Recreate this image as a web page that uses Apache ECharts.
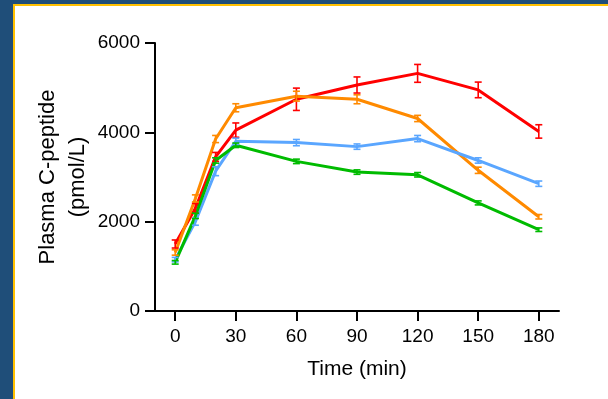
<!DOCTYPE html>
<html>
<head>
<meta charset="utf-8">
<script src="https://cdn.jsdelivr.net/npm/echarts@6/dist/echarts.min.js"></script>
<style>
  html, body { margin: 0; padding: 0; width: 608px; height: 399px; overflow: hidden; background: #1f4e79; }
  #panel { position: absolute; left: 13px; top: 4px; right: 0; bottom: 0; background: #fff;
           border-left: 2px solid #ffc000; border-top: 2px solid #ffc000; }
  #chart { position: absolute; left: 0; top: 0; width: 608px; height: 399px; }
</style>
</head>
<body>
<div id="panel"></div>
<div id="chart"></div>
<script>
// Sampling times (min)
const times = [0, 10, 20, 30, 60, 90, 120, 150, 180];
const xTicks = [0, 30, 60, 90, 120, 150, 180];

// Mean plasma C-peptide (pmol/L) and SEM for each group
const redMean    = [1500, 2300, 3450, 4050, 4740, 5060, 5320, 4950, 4020];
const redErr     = [90, 110, 100, 160, 250, 180, 200, 175, 150];
const orangeMean = [1310, 2520, 3850, 4550, 4810, 4740, 4310, 3150, 2110];
const orangeErr  = [60, 80, 80, 90, 110, 100, 70, 70, 50];
const blueMean   = [1150, 2000, 3130, 3800, 3770, 3680, 3860, 3370, 2850];
const blueErr    = [50, 80, 100, 70, 70, 60, 70, 60, 60];
const greenMean  = [1090, 2130, 3370, 3710, 3350, 3110, 3050, 2420, 1820];
const greenErr   = [40, 60, 60, 50, 50, 50, 50, 45, 40];

const groups = [
  { color: '#ff0000', mean: redMean, err: redErr },
  { color: '#ff8a00', mean: orangeMean, err: orangeErr },
  { color: '#5aa6ff', mean: blueMean, err: blueErr },
  { color: '#00bb00', mean: greenMean, err: greenErr }
];

const font = 'Liberation Sans, Arial, Helvetica, sans-serif';
const series = [];

groups.forEach(g => {
  series.push({
    type: 'line',
    data: times.map((t, i) => [t, g.mean[i]]),
    showSymbol: false,
    symbol: 'none',
    lineStyle: { color: g.color, width: 3 },
    itemStyle: { color: g.color },
    z: 3
  });
  // SEM error bars with caps
  series.push({
    type: 'custom',
    data: times.map((t, i) => [t, g.mean[i] - g.err[i], g.mean[i] + g.err[i]]),
    z: 4,
    renderItem: function (params, api) {
      const lo = api.coord([api.value(0), api.value(1)]);
      const hi = api.coord([api.value(0), api.value(2)]);
      const hw = 3.5;
      const style = { stroke: g.color, lineWidth: 1.6, fill: null };
      return {
        type: 'group',
        children: [
          { type: 'line', shape: { x1: lo[0], y1: lo[1], x2: hi[0], y2: hi[1] }, style: style },
          { type: 'line', shape: { x1: lo[0] - hw, y1: lo[1], x2: lo[0] + hw, y2: lo[1] }, style: style },
          { type: 'line', shape: { x1: hi[0] - hw, y1: hi[1], x2: hi[0] + hw, y2: hi[1] }, style: style }
        ]
      };
    }
  });
});

const chart = echarts.init(document.getElementById('chart'), null, { renderer: 'canvas' });
chart.setOption({
  animation: false,
  backgroundColor: 'transparent',
  grid: { left: 155, right: 49, top: 43, bottom: 88 },
  xAxis: {
    type: 'value',
    min: -10,
    max: 190,
    name: 'Time (min)',
    nameLocation: 'middle',
    nameGap: 48,
    nameMoveOverlap: false,
    nameTextStyle: { fontFamily: font, fontSize: 21, color: '#000' },
    splitLine: { show: false },
    axisLine: { show: true, onZero: false, lineStyle: { color: '#000', width: 2 } },
    axisTick: { show: true, length: 10, customValues: xTicks, lineStyle: { color: '#000', width: 2 } },
    axisLabel: { customValues: xTicks, margin: 16, fontFamily: font, fontSize: 19, color: '#000' }
  },
  yAxis: {
    type: 'value',
    min: 0,
    max: 6000,
    interval: 2000,
    name: 'Plasma C-peptide\n(pmol/L)',
    nameLocation: 'middle',
    nameGap: 62,
    nameMoveOverlap: false,
    nameTextStyle: { fontFamily: font, fontSize: 22, color: '#000', lineHeight: 30, align: 'center' },
    splitLine: { show: false },
    axisLine: { show: true, onZero: false, lineStyle: { color: '#000', width: 2 } },
    axisTick: { show: true, length: 10, lineStyle: { color: '#000', width: 2 } },
    axisLabel: { margin: 15, fontFamily: font, fontSize: 19, color: '#000', formatter: v => String(v) }
  },
  series: series
});
</script>
</body>
</html>
